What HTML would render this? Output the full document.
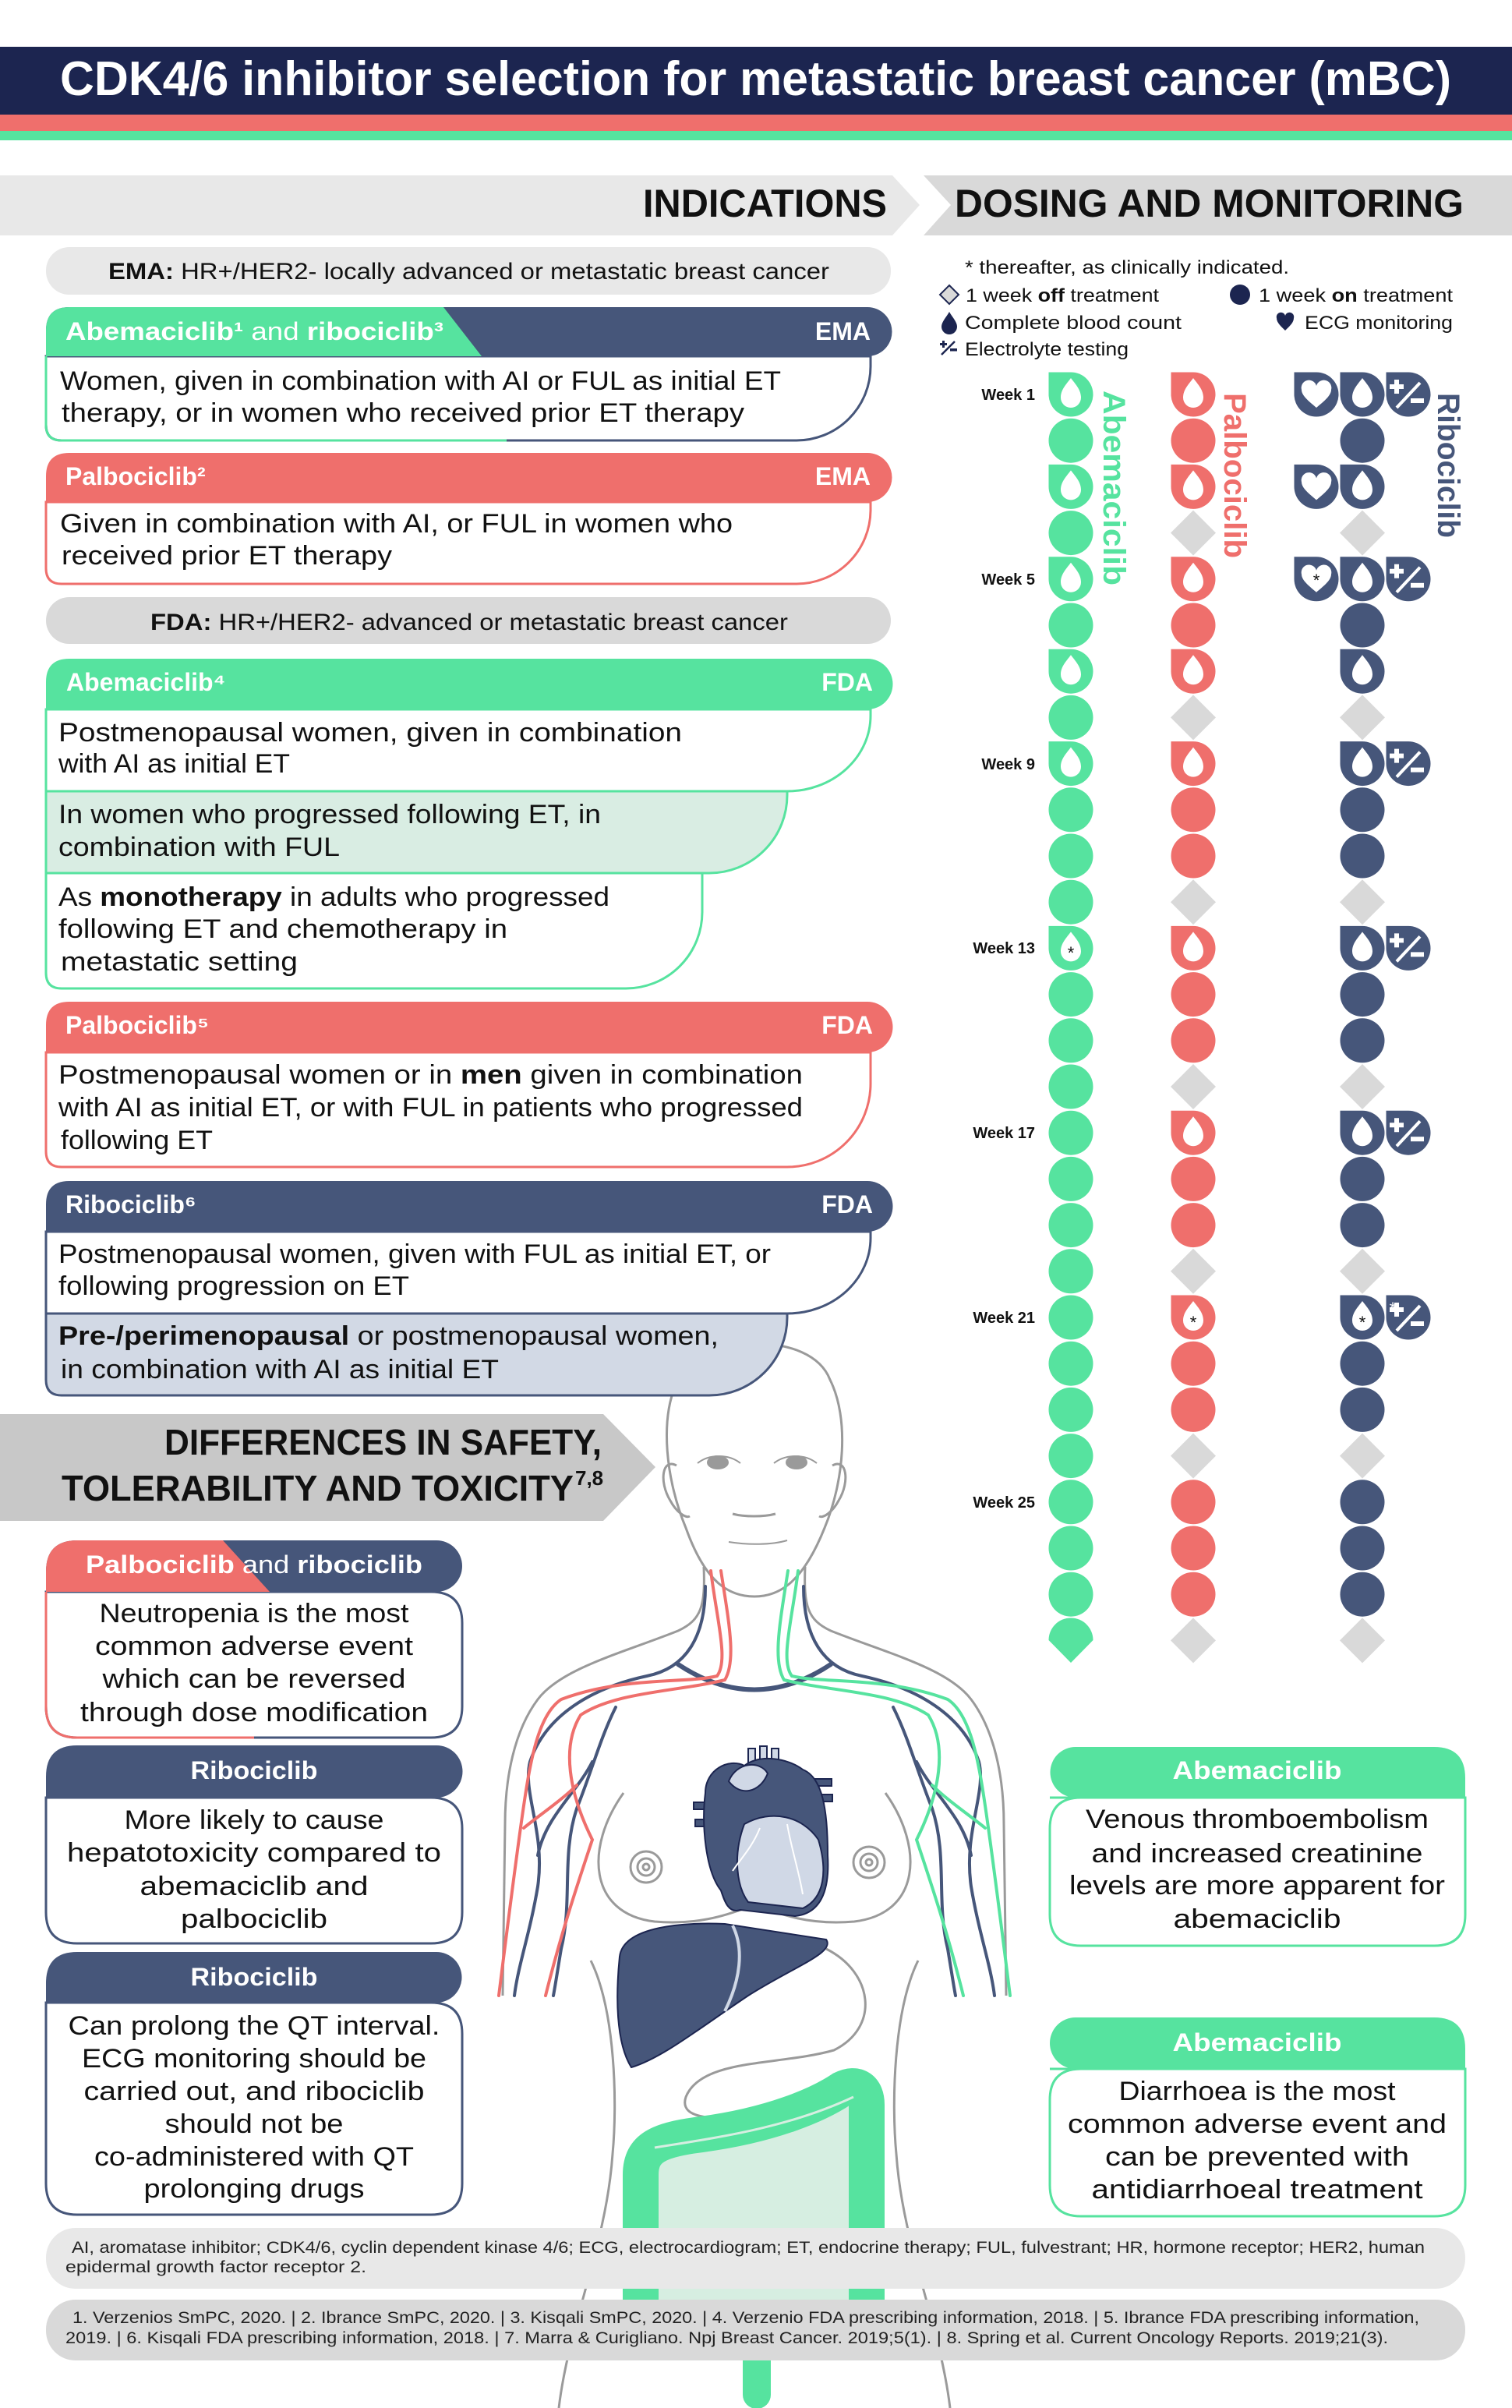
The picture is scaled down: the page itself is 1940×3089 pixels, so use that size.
<!DOCTYPE html>
<html><head><meta charset="utf-8"><style>
html,body{margin:0;padding:0;background:#fff}
svg{display:block}
text{font-family:"Liberation Sans","DejaVu Sans",sans-serif}
</style></head><body>
<svg width="1940" height="3089" viewBox="0 0 1940 3089" xmlns="http://www.w3.org/2000/svg">
<defs>
<circle id="c" r="28.5"/>
<path id="b" d="M-28.5,-28.5H0A28.5,28.5 0 0 1 28.5,0A28.5,28.5 0 0 1 0,28.5A28.5,28.5 0 0 1 -28.5,0Z"/>
<path id="w" d="M0,-21C6,-13 13,-6 13,4A13,13 0 0 1 -13,4C-13,-6 -6,-13 0,-21Z" fill="#fff"/>
<path id="h" d="M0,17C-8,10 -19,2 -19,-6A9.5,9.5 0 0 1 0,-11A9.5,9.5 0 0 1 19,-6C19,2 8,10 0,17Z" fill="#fff"/>
<g id="e"><path d="M-18,-19h6v6h6v6h-6v6h-6v-6h-6v-6h6z" fill="#fff"/><path d="M-15,17L15,-15" stroke="#fff" stroke-width="4"/><rect x="3" y="5" width="17" height="6" fill="#fff"/></g>
<polygon id="d" points="0,-29 29,0 0,29 -29,0" fill="#d9d9d9"/>
</defs>

<!-- title -->
<rect x="0" y="60" width="1940" height="87" fill="#1c2550"/>
<rect x="0" y="147" width="1940" height="21" fill="#ef6f6c"/>
<rect x="0" y="168" width="1940" height="12" fill="#56e39f"/>
<text x="77" y="122" font-size="62" font-weight="bold" fill="#fff" textLength="1785" lengthAdjust="spacingAndGlyphs">CDK4/6 inhibitor selection for metastatic breast cancer (mBC)</text>

<!-- section headers -->
<polygon points="0,225 1145,225 1180,263 1145,302 0,302" fill="#e8e8e8"/>
<polygon points="1185,225 1940,225 1940,302 1185,302 1220,263" fill="#d9d9d9"/>
<text x="825" y="278" font-size="50" font-weight="bold" fill="#111" textLength="313" lengthAdjust="spacingAndGlyphs">INDICATIONS</text>
<text x="1225" y="278" font-size="50" font-weight="bold" fill="#111" textLength="653" lengthAdjust="spacingAndGlyphs">DOSING AND MONITORING</text>

<!-- BODY FIGURE -->
<g fill="none" stroke="#9a9a9a" stroke-width="3">
<path d="M880,1960 C855,1900 845,1820 870,1770 C900,1712 1040,1705 1065,1770 C1090,1820 1083,1900 1058,1960 C1030,2030 1000,2048 968,2048 C935,2048 905,2030 880,1960 Z" fill="#fff"/>
<path d="M868,1880 C850,1870 845,1900 860,1925 C868,1940 880,1948 885,1945"/>
<path d="M1068,1880 C1086,1870 1091,1900 1076,1925 C1068,1940 1056,1948 1051,1945"/>
<path d="M903,2010 C905,2060 900,2078 870,2092 C800,2120 720,2140 690,2180 C660,2220 648,2280 648,2340 L645,2560"/>
<path d="M1033,2010 C1031,2060 1036,2078 1066,2092 C1136,2120 1216,2140 1246,2180 C1276,2220 1288,2280 1288,2340 L1291,2560"/>
<path d="M758,2515 C790,2580 792,2700 786,2763 C778,2880 730,2980 717,3089"/>
<path d="M1178,2515 C1146,2580 1144,2700 1150,2763 C1158,2880 1206,2980 1219,3089"/>
<path d="M800,2300 C750,2370 755,2455 840,2465 C900,2470 935,2455 965,2445"/>
<path d="M1136,2300 C1186,2370 1181,2455 1096,2465 C1036,2470 1000,2455 975,2445"/>
<circle cx="829" cy="2395" r="20"/><circle cx="829" cy="2395" r="11"/><circle cx="829" cy="2395" r="4"/>
<circle cx="1115" cy="2389" r="20"/><circle cx="1115" cy="2389" r="11"/><circle cx="1115" cy="2389" r="4"/>
<path d="M940,1942 C955,1946 980,1946 995,1942"/>
<path d="M935,1978 C960,1982 990,1982 1010,1976" stroke-width="2"/>
<path d="M1060,2500 C1120,2530 1130,2600 1070,2630 C1000,2650 900,2640 880,2690 C870,2720 920,2720 980,2715"/>
</g>
<ellipse cx="921" cy="1876" rx="14" ry="9" fill="#9a9a9a"/>
<ellipse cx="1022" cy="1876" rx="14" ry="9" fill="#9a9a9a"/>
<path d="M895,1877 C910,1865 935,1865 950,1877" fill="none" stroke="#9a9a9a" stroke-width="2"/>
<path d="M993,1877 C1008,1865 1033,1865 1048,1877" fill="none" stroke="#9a9a9a" stroke-width="2"/>
<!-- veins -->
<g fill="none" stroke-width="4" stroke-linecap="round">
<path d="M870,2135 Q968,2200 1066,2135" stroke="#46567a" stroke-width="6"/>
<g>
<path d="M905,2035 C905,2100 880,2140 830,2150 C760,2165 700,2200 680,2260 C670,2300 700,2350 690,2420 C680,2480 665,2520 660,2560" stroke="#46567a"/>
<path d="M790,2190 C770,2230 760,2270 740,2320 C720,2380 735,2440 720,2500 C715,2530 712,2550 710,2560" stroke="#46567a"/>
<path d="M760,2260 C740,2300 700,2330 690,2380" stroke="#46567a"/>
<path d="M912,2015 C920,2080 935,2130 920,2150 C880,2160 800,2150 720,2180 C690,2200 680,2260 670,2330 C660,2400 650,2480 640,2560" stroke="#ef6f6c"/>
<path d="M925,2015 C935,2080 945,2130 930,2155 C870,2170 790,2170 745,2200 C720,2240 730,2300 760,2360 C740,2420 720,2480 700,2560" stroke="#ef6f6c"/>
<path d="M740,2290 C720,2310 690,2330 672,2345" stroke="#ef6f6c"/>
</g>
<g transform="translate(1936,0) scale(-1,1)">
<path d="M905,2035 C905,2100 880,2140 830,2150 C760,2165 700,2200 680,2260 C670,2300 700,2350 690,2420 C680,2480 665,2520 660,2560" stroke="#46567a"/>
<path d="M790,2190 C770,2230 760,2270 740,2320 C720,2380 735,2440 720,2500 C715,2530 712,2550 710,2560" stroke="#46567a"/>
<path d="M760,2260 C740,2300 700,2330 690,2380" stroke="#46567a"/>
<path d="M912,2015 C920,2080 935,2130 920,2150 C880,2160 800,2150 720,2180 C690,2200 680,2260 670,2330 C660,2400 650,2480 640,2560" stroke="#56e39f"/>
<path d="M925,2015 C935,2080 945,2130 930,2155 C870,2170 790,2170 745,2200 C720,2240 730,2300 760,2360 C740,2420 720,2480 700,2560" stroke="#56e39f"/>
<path d="M740,2290 C720,2310 690,2330 672,2345" stroke="#56e39f"/>
</g>
</g>
<!-- heart -->
<g stroke="#1c2550" stroke-width="2">
<rect x="890" y="2312" width="20" height="9" fill="#46567a"/>
<rect x="892" y="2334" width="18" height="9" fill="#46567a"/>
<rect x="1045" y="2282" width="22" height="9" fill="#46567a"/>
<rect x="1048" y="2302" width="20" height="9" fill="#46567a"/>
<rect x="960" y="2243" width="9" height="22" fill="#d0d8e6"/>
<rect x="975" y="2240" width="9" height="25" fill="#d0d8e6"/>
<rect x="990" y="2243" width="9" height="22" fill="#d0d8e6"/>
<path d="M905,2300 C905,2270 935,2255 955,2265 C975,2250 1010,2255 1030,2270 C1055,2280 1062,2320 1062,2380 C1065,2430 1050,2455 1020,2458 L950,2450 C935,2455 930,2440 925,2425 C905,2400 900,2340 905,2300 Z" fill="#46567a"/>
<path d="M955,2340 C990,2320 1030,2330 1050,2360 C1062,2400 1058,2435 1030,2448 L960,2440 C945,2420 940,2380 955,2340 Z" fill="#d0d8e6"/>
<path d="M935,2285 C945,2260 975,2258 985,2275 C975,2300 950,2305 935,2285 Z" fill="#d0d8e6"/>
</g>
<path d="M975,2345 C965,2370 950,2385 940,2400 M1010,2340 C1015,2370 1025,2400 1030,2430" fill="none" stroke="#fff" stroke-width="2"/>
<!-- liver -->
<path d="M795,2510 C800,2470 880,2466 930,2468 L1060,2488 C1072,2505 1020,2522 960,2560 C900,2600 850,2640 810,2652 C790,2620 790,2560 795,2510 Z" fill="#46567a" stroke="#1c2550" stroke-width="2"/>
<path d="M940,2470 C955,2500 950,2540 930,2580" fill="none" stroke="#d0d8e6" stroke-width="4"/>
<!-- intestines -->
<path d="M830,2760 C900,2740 1000,2730 1095,2700 L1095,3000 L830,3000 Z" fill="#d6eee1"/>
<path d="M822,2990 L822,2790 C822,2755 845,2745 900,2738 C990,2726 1050,2700 1080,2680 C1100,2670 1112,2680 1112,2700 L1112,2990" fill="none" stroke="#56e39f" stroke-width="46" stroke-linejoin="round"/>
<path d="M840,2755 C920,2742 1010,2730 1095,2690" fill="none" stroke="#d6eee1" stroke-width="3"/>
<path d="M971,3000 V3072" stroke="#56e39f" stroke-width="36" stroke-linecap="round"/>

<!-- EMA bar -->
<rect x="59" y="317" width="1084" height="61" rx="30" fill="#e8e8e8"/>
<text x="139" y="358" font-size="30" fill="#111" textLength="925" lengthAdjust="spacingAndGlyphs"><tspan font-weight="bold">EMA:</tspan> HR+/HER2- locally advanced or metastatic breast cancer</text>

<!-- Abema & ribo EMA -->
<path d="M59,457 H1117 V470 A95,95 0 0 1 1022,565 H79 Q59,565 59,545 Z" fill="#fff" stroke="#46567a" stroke-width="3"/>
<path d="M59,457 V545 Q59,565 79,565 H650" fill="none" stroke="#56e39f" stroke-width="3"/>
<path d="M59,457 V424 Q59,394 89,394 H1113 A31.5,31.5 0 0 1 1113,457 Z" fill="#46567a"/>
<path d="M59,457 V424 Q59,394 89,394 H569 L618,457 Z" fill="#56e39f"/>
<text x="84" y="436" font-size="32" fill="#fff" textLength="485" lengthAdjust="spacingAndGlyphs"><tspan font-weight="bold">Abemaciclib¹</tspan> and <tspan font-weight="bold">ribociclib³</tspan></text>
<text x="1117" y="436" font-size="32" font-weight="bold" fill="#fff" text-anchor="end">EMA</text>
<text x="77" y="500" font-size="34" fill="#111" textLength="925" lengthAdjust="spacingAndGlyphs">Women, given in combination with AI or FUL as initial ET</text>
<text x="79" y="541" font-size="34" fill="#111" textLength="876" lengthAdjust="spacingAndGlyphs">therapy, or in women who received prior ET therapy</text>

<!-- Palbo EMA -->
<path d="M59,644 H1117 V655 A95,95 0 0 1 1022,749 H79 Q59,749 59,729 Z" fill="#fff" stroke="#ef6f6c" stroke-width="3"/>
<path d="M59,644 V611 Q59,581 89,581 H1113 A31.5,31.5 0 0 1 1113,644 Z" fill="#ef6f6c"/>
<text x="84" y="622" font-size="32" font-weight="bold" fill="#fff">Palbociclib²</text>
<text x="1117" y="622" font-size="32" font-weight="bold" fill="#fff" text-anchor="end">EMA</text>
<text x="77" y="683" font-size="34" fill="#111" textLength="863" lengthAdjust="spacingAndGlyphs">Given in combination with AI, or FUL in women who</text>
<text x="79" y="724" font-size="34" fill="#111" textLength="424" lengthAdjust="spacingAndGlyphs">received prior ET therapy</text>

<!-- FDA bar -->
<rect x="59" y="766" width="1084" height="60" rx="30" fill="#d9d9d9"/>
<text x="193" y="808" font-size="30" fill="#111" textLength="818" lengthAdjust="spacingAndGlyphs"><tspan font-weight="bold">FDA:</tspan> HR+/HER2- advanced or metastatic breast cancer</text>

<!-- Abema FDA -->
<path d="M59,1120 H901 V1170 A98,98 0 0 1 803,1268 H79 Q59,1268 59,1248 Z" fill="#fff" stroke="#56e39f" stroke-width="3"/>
<path d="M59,1015 H1010 V1020 A100,100 0 0 1 910,1120 H59 Z" fill="#d9ede3" stroke="#56e39f" stroke-width="3"/>
<path d="M59,910 H1117 V918 A107,97 0 0 1 1010,1015 H59 Z" fill="#fff" stroke="#56e39f" stroke-width="3"/>
<path d="M59,910 V875 Q59,845 89,845 H1113 A32.5,32.5 0 0 1 1113,910 Z" fill="#56e39f"/>
<text x="85" y="886" font-size="32" font-weight="bold" fill="#fff">Abemaciclib⁴</text>
<text x="1120" y="886" font-size="32" font-weight="bold" fill="#fff" text-anchor="end">FDA</text>
<text x="75" y="951" font-size="34" fill="#111" textLength="800" lengthAdjust="spacingAndGlyphs">Postmenopausal women, given in combination</text>
<text x="75" y="991" font-size="34" fill="#111" textLength="297" lengthAdjust="spacingAndGlyphs">with AI as initial ET</text>
<text x="75" y="1056" font-size="34" fill="#111" textLength="696" lengthAdjust="spacingAndGlyphs">In women who progressed following ET, in</text>
<text x="75" y="1098" font-size="34" fill="#111" textLength="361" lengthAdjust="spacingAndGlyphs">combination with FUL</text>
<text x="75" y="1162" font-size="34" fill="#111" textLength="707" lengthAdjust="spacingAndGlyphs">As <tspan font-weight="bold">monotherapy</tspan> in adults who progressed</text>
<text x="75" y="1203" font-size="34" fill="#111" textLength="576" lengthAdjust="spacingAndGlyphs">following ET and chemotherapy in</text>
<text x="78" y="1245" font-size="34" fill="#111" textLength="304" lengthAdjust="spacingAndGlyphs">metastatic setting</text>

<!-- Palbo FDA -->
<path d="M59,1350 H1117 V1390 A107,107 0 0 1 1010,1497 H79 Q59,1497 59,1477 Z" fill="#fff" stroke="#ef6f6c" stroke-width="3"/>
<path d="M59,1350 V1315 Q59,1285 89,1285 H1113 A32.5,32.5 0 0 1 1113,1350 Z" fill="#ef6f6c"/>
<text x="84" y="1326" font-size="32" font-weight="bold" fill="#fff">Palbociclib⁵</text>
<text x="1120" y="1326" font-size="32" font-weight="bold" fill="#fff" text-anchor="end">FDA</text>
<text x="75" y="1390" font-size="34" fill="#111" textLength="955" lengthAdjust="spacingAndGlyphs">Postmenopausal women or in <tspan font-weight="bold">men</tspan> given in combination</text>
<text x="75" y="1432" font-size="34" fill="#111" textLength="955" lengthAdjust="spacingAndGlyphs">with AI as initial ET, or with FUL in patients who progressed</text>
<text x="78" y="1474" font-size="34" fill="#111" textLength="195" lengthAdjust="spacingAndGlyphs">following ET</text>

<!-- Ribo FDA -->
<path d="M59,1685 H1010 V1690 A100,100 0 0 1 910,1790 H79 Q59,1790 59,1770 Z" fill="#d2d9e5" stroke="#46567a" stroke-width="3"/>
<path d="M59,1580 H1117 V1588 A107,97 0 0 1 1010,1685 H59 Z" fill="#fff" stroke="#46567a" stroke-width="3"/>
<path d="M59,1580 V1545 Q59,1515 89,1515 H1113 A32.5,32.5 0 0 1 1113,1580 Z" fill="#46567a"/>
<text x="84" y="1556" font-size="32" font-weight="bold" fill="#fff">Ribociclib⁶</text>
<text x="1120" y="1556" font-size="32" font-weight="bold" fill="#fff" text-anchor="end">FDA</text>
<text x="75" y="1620" font-size="34" fill="#111" textLength="914" lengthAdjust="spacingAndGlyphs">Postmenopausal women, given with FUL as initial ET, or</text>
<text x="75" y="1661" font-size="34" fill="#111" textLength="450" lengthAdjust="spacingAndGlyphs">following progression on ET</text>
<text x="75" y="1725" font-size="34" fill="#111" textLength="847" lengthAdjust="spacingAndGlyphs"><tspan font-weight="bold">Pre-/perimenopausal</tspan> or postmenopausal women,</text>
<text x="78" y="1768" font-size="34" fill="#111" textLength="562" lengthAdjust="spacingAndGlyphs">in combination with AI as initial ET</text>

<!-- Differences header -->
<polygon points="0,1814 774,1814 841,1882 774,1951 0,1951" fill="#c8c8c8"/>
<text x="211" y="1866" font-size="46" font-weight="bold" fill="#111" textLength="561" lengthAdjust="spacingAndGlyphs">DIFFERENCES IN SAFETY,</text>
<text x="79" y="1925" font-size="46" font-weight="bold" fill="#111" textLength="657" lengthAdjust="spacingAndGlyphs">TOLERABILITY AND TOXICITY</text>
<text x="738" y="1905" font-size="26" font-weight="bold" fill="#111">7,8</text>

<!-- Diff box 1 -->
<path d="M59,2042 H553 Q593,2042 593,2082 V2189 Q593,2229 553,2229 H99 Q59,2229 59,2189 Z" fill="#fff" stroke="#46567a" stroke-width="3"/>
<path d="M59,2042 V2189 Q59,2229 99,2229 H326" fill="none" stroke="#ef6f6c" stroke-width="3"/>
<path d="M59,2042 V2016 Q59,1976 99,1976 H560 A33,33 0 0 1 560,2042 Z" fill="#46567a"/>
<path d="M59,2042 V2016 Q59,1976 99,1976 H286 L346,2042 Z" fill="#ef6f6c"/>
<text x="110" y="2018" font-size="32" fill="#fff" textLength="432" lengthAdjust="spacingAndGlyphs"><tspan font-weight="bold">Palbociclib</tspan> and <tspan font-weight="bold">ribociclib</tspan></text>
<g font-size="34" fill="#111" text-anchor="middle">
<text x="326" y="2081" textLength="397" lengthAdjust="spacingAndGlyphs">Neutropenia is the most</text>
<text x="326" y="2123" textLength="408" lengthAdjust="spacingAndGlyphs">common adverse event</text>
<text x="326" y="2165" textLength="389" lengthAdjust="spacingAndGlyphs">which can be reversed</text>
<text x="326" y="2208" textLength="446" lengthAdjust="spacingAndGlyphs">through dose modification</text>
</g>

<!-- Diff box 2 -->
<path d="M59,2306 H553 Q593,2306 593,2346 V2453 Q593,2493 553,2493 H99 Q59,2493 59,2453 Z" fill="#fff" stroke="#46567a" stroke-width="3"/>
<path d="M59,2306 V2279 Q59,2239 99,2239 H560 A33.5,33.5 0 0 1 560,2306 Z" fill="#46567a"/>
<text x="326" y="2282" font-size="32" font-weight="bold" fill="#fff" text-anchor="middle" textLength="163" lengthAdjust="spacingAndGlyphs">Ribociclib</text>
<g font-size="34" fill="#111" text-anchor="middle">
<text x="326" y="2346" textLength="333" lengthAdjust="spacingAndGlyphs">More likely to cause</text>
<text x="326" y="2388" textLength="480" lengthAdjust="spacingAndGlyphs">hepatotoxicity compared to</text>
<text x="326" y="2431" textLength="293" lengthAdjust="spacingAndGlyphs">abemaciclib and</text>
<text x="326" y="2473" textLength="188" lengthAdjust="spacingAndGlyphs">palbociclib</text>
</g>

<!-- Diff box 3 -->
<path d="M59,2569 H553 Q593,2569 593,2609 V2801 Q593,2841 553,2841 H99 Q59,2841 59,2801 Z" fill="#fff" stroke="#46567a" stroke-width="3"/>
<path d="M59,2569 V2544 Q59,2504 99,2504 H560 A32.5,32.5 0 0 1 560,2569 Z" fill="#46567a"/>
<text x="326" y="2547" font-size="32" font-weight="bold" fill="#fff" text-anchor="middle" textLength="163" lengthAdjust="spacingAndGlyphs">Ribociclib</text>
<g font-size="34" fill="#111" text-anchor="middle">
<text x="326" y="2610" textLength="477" lengthAdjust="spacingAndGlyphs">Can prolong the QT interval.</text>
<text x="326" y="2652" textLength="442" lengthAdjust="spacingAndGlyphs">ECG monitoring should be</text>
<text x="326" y="2694" textLength="437" lengthAdjust="spacingAndGlyphs">carried out, and ribociclib</text>
<text x="326" y="2736" textLength="229" lengthAdjust="spacingAndGlyphs">should not be</text>
<text x="326" y="2778" textLength="410" lengthAdjust="spacingAndGlyphs">co-administered with QT</text>
<text x="326" y="2819" textLength="283" lengthAdjust="spacingAndGlyphs">prolonging drugs</text>
</g>

<!-- Right box A -->
<path d="M1347,2306 H1880 V2456 Q1880,2496 1840,2496 H1387 Q1347,2496 1347,2456 V2346 Q1347,2306 1387,2306 Z" fill="#fff" stroke="#56e39f" stroke-width="3"/>
<path d="M1880,2306 V2281 Q1880,2241 1840,2241 H1380 A32.5,32.5 0 0 0 1380,2306 Z" fill="#56e39f"/>
<text x="1613" y="2282" font-size="32" font-weight="bold" fill="#fff" text-anchor="middle" textLength="217" lengthAdjust="spacingAndGlyphs">Abemaciclib</text>
<g font-size="34" fill="#111" text-anchor="middle">
<text x="1613" y="2345" textLength="440" lengthAdjust="spacingAndGlyphs">Venous thromboembolism</text>
<text x="1613" y="2389" textLength="425" lengthAdjust="spacingAndGlyphs">and increased creatinine</text>
<text x="1613" y="2430" textLength="482" lengthAdjust="spacingAndGlyphs">levels are more apparent for</text>
<text x="1613" y="2473" textLength="215" lengthAdjust="spacingAndGlyphs">abemaciclib</text>
</g>

<!-- Right box B -->
<path d="M1347,2654 H1880 V2803 Q1880,2843 1840,2843 H1387 Q1347,2843 1347,2803 V2694 Q1347,2654 1387,2654 Z" fill="#fff" stroke="#56e39f" stroke-width="3"/>
<path d="M1880,2654 V2628 Q1880,2588 1840,2588 H1380 A33,33 0 0 0 1380,2654 Z" fill="#56e39f"/>
<text x="1613" y="2631" font-size="32" font-weight="bold" fill="#fff" text-anchor="middle" textLength="217" lengthAdjust="spacingAndGlyphs">Abemaciclib</text>
<g font-size="34" fill="#111" text-anchor="middle">
<text x="1613" y="2694" textLength="355" lengthAdjust="spacingAndGlyphs">Diarrhoea is the most</text>
<text x="1613" y="2736" textLength="486" lengthAdjust="spacingAndGlyphs">common adverse event and</text>
<text x="1613" y="2778" textLength="390" lengthAdjust="spacingAndGlyphs">can be prevented with</text>
<text x="1613" y="2820" textLength="425" lengthAdjust="spacingAndGlyphs">antidiarrhoeal  treatment</text>
</g>

<!-- footnotes -->
<rect x="59" y="2858" width="1821" height="78" rx="38" fill="#e8e8e8"/>
<text x="92" y="2890" font-size="21" fill="#222" textLength="1736" lengthAdjust="spacingAndGlyphs">AI, aromatase inhibitor; CDK4/6, cyclin dependent kinase 4/6; ECG, electrocardiogram; ET, endocrine therapy; FUL, fulvestrant; HR, hormone receptor; HER2, human</text>
<text x="84" y="2915" font-size="21" fill="#222" textLength="386" lengthAdjust="spacingAndGlyphs">epidermal growth factor receptor 2.</text>
<rect x="59" y="2950" width="1821" height="78" rx="38" fill="#d9d9d9"/>
<text x="93" y="2980" font-size="21" fill="#222" textLength="1728" lengthAdjust="spacingAndGlyphs">1. Verzenios SmPC, 2020.  |  2. Ibrance SmPC, 2020.  |  3. Kisqali SmPC, 2020.  |  4. Verzenio FDA prescribing information, 2018.  |  5. Ibrance FDA prescribing information,</text>
<text x="84" y="3006" font-size="21" fill="#222" textLength="1697" lengthAdjust="spacingAndGlyphs">2019.  |  6. Kisqali FDA prescribing information, 2018.  |  7. Marra &amp; Curigliano. Npj Breast Cancer. 2019;5(1).  |  8. Spring et al. Current Oncology Reports. 2019;21(3).</text>

<!-- legend -->
<text x="1238" y="351" font-size="24" fill="#111" textLength="416" lengthAdjust="spacingAndGlyphs">* thereafter, as clinically indicated.</text>
<polygon points="1218,366 1230,378 1218,390 1206,378" fill="#d9d9d9" stroke="#1c2550" stroke-width="2"/>
<text x="1239" y="387" font-size="24" fill="#111" textLength="248" lengthAdjust="spacingAndGlyphs">1 week <tspan font-weight="bold">off</tspan> treatment</text>
<circle cx="1591" cy="378" r="13" fill="#1c2550"/>
<text x="1615" y="387" font-size="24" fill="#111" textLength="249" lengthAdjust="spacingAndGlyphs">1 week <tspan font-weight="bold">on</tspan> treatment</text>
<path d="M1218,400 C1222,407 1228,413 1228,419 A10,10 0 0 1 1208,419 C1208,413 1214,407 1218,400 Z" fill="#1c2550"/>
<text x="1238" y="422" font-size="24" fill="#111" textLength="278" lengthAdjust="spacingAndGlyphs">Complete blood count</text>
<path d="M1649,424 C1644,419 1638,414 1638,408 A5.5,5.5 0 0 1 1649,405 A5.5,5.5 0 0 1 1660,408 C1660,414 1654,419 1649,424 Z" fill="#1c2550"/>
<text x="1674" y="422" font-size="24" fill="#111" textLength="190" lengthAdjust="spacingAndGlyphs">ECG monitoring</text>
<path d="M1209,437h3v3h3v3h-3v3h-3v-3h-3v-3h3z" fill="#1c2550"/>
<path d="M1208,455L1225,438" stroke="#1c2550" stroke-width="2.5"/>
<rect x="1219" y="447" width="9" height="3.5" fill="#1c2550"/>
<text x="1238" y="456" font-size="24" fill="#111" textLength="210" lengthAdjust="spacingAndGlyphs">Electrolyte testing</text>

<!-- week labels -->
<g font-size="20" font-weight="bold" fill="#111" text-anchor="end">
<text x="1328" y="513">Week 1</text>
<text x="1328" y="750">Week 5</text>
<text x="1328" y="987">Week 9</text>
<text x="1328" y="1223">Week 13</text>
<text x="1328" y="1460">Week 17</text>
<text x="1328" y="1697">Week 21</text>
<text x="1328" y="1934">Week 25</text>
</g>

<!-- vertical labels -->
<text transform="translate(1416,501) rotate(90)" font-size="40" font-weight="bold" fill="#56e39f" textLength="250" lengthAdjust="spacingAndGlyphs">Abemaciclib</text>
<text transform="translate(1571,504) rotate(90)" font-size="40" font-weight="bold" fill="#ef6f6c" textLength="212" lengthAdjust="spacingAndGlyphs">Palbociclib</text>
<text transform="translate(1845,504) rotate(90)" font-size="40" font-weight="bold" fill="#46567a" textLength="186" lengthAdjust="spacingAndGlyphs">Ribociclib</text>

<!-- Abemaciclib column -->
<g fill="#56e39f">
<use href="#b" x="1374" y="506"/><use href="#w" x="1374" y="506"/>
<use href="#c" x="1374" y="565.2"/>
<use href="#b" x="1374" y="624.4"/><use href="#w" x="1374" y="624.4"/>
<use href="#c" x="1374" y="683.6"/>
<use href="#b" x="1374" y="742.8"/><use href="#w" x="1374" y="742.8"/>
<use href="#c" x="1374" y="802"/>
<use href="#b" x="1374" y="861.2"/><use href="#w" x="1374" y="861.2"/>
<use href="#c" x="1374" y="920.4"/>
<use href="#b" x="1374" y="979.6"/><use href="#w" x="1374" y="979.6"/>
<use href="#c" x="1374" y="1038.8"/>
<use href="#c" x="1374" y="1098"/>
<use href="#c" x="1374" y="1157.2"/>
<use href="#b" x="1374" y="1216.4"/><use href="#w" x="1374" y="1216.4"/>
<use href="#c" x="1374" y="1275.6"/>
<use href="#c" x="1374" y="1334.8"/>
<use href="#c" x="1374" y="1394"/>
<use href="#c" x="1374" y="1453.2"/>
<use href="#c" x="1374" y="1512.4"/>
<use href="#c" x="1374" y="1571.6"/>
<use href="#c" x="1374" y="1630.8"/>
<use href="#c" x="1374" y="1690"/>
<use href="#c" x="1374" y="1749.2"/>
<use href="#c" x="1374" y="1808.4"/>
<use href="#c" x="1374" y="1867.6"/>
<use href="#c" x="1374" y="1926.8"/>
<use href="#c" x="1374" y="1986"/>
<use href="#c" x="1374" y="2045.2"/>
<path d="M1345.5,2104 A28.5,28.5 0 0 1 1402.5,2104 L1374,2133 Z"/>
</g>
<text x="1374" y="1230" font-size="22" fill="#111" text-anchor="middle">*</text>

<!-- Palbociclib column -->
<g fill="#ef6f6c">
<use href="#b" x="1531" y="506"/><use href="#w" x="1531" y="506"/>
<use href="#c" x="1531" y="565.2"/>
<use href="#b" x="1531" y="624.4"/><use href="#w" x="1531" y="624.4"/>
<use href="#d" x="1531" y="683.6"/>
<use href="#b" x="1531" y="742.8"/><use href="#w" x="1531" y="742.8"/>
<use href="#c" x="1531" y="802"/>
<use href="#b" x="1531" y="861.2"/><use href="#w" x="1531" y="861.2"/>
<use href="#d" x="1531" y="920.4"/>
<use href="#b" x="1531" y="979.6"/><use href="#w" x="1531" y="979.6"/>
<use href="#c" x="1531" y="1038.8"/>
<use href="#c" x="1531" y="1098"/>
<use href="#d" x="1531" y="1157.2"/>
<use href="#b" x="1531" y="1216.4"/><use href="#w" x="1531" y="1216.4"/>
<use href="#c" x="1531" y="1275.6"/>
<use href="#c" x="1531" y="1334.8"/>
<use href="#d" x="1531" y="1394"/>
<use href="#b" x="1531" y="1453.2"/><use href="#w" x="1531" y="1453.2"/>
<use href="#c" x="1531" y="1512.4"/>
<use href="#c" x="1531" y="1571.6"/>
<use href="#d" x="1531" y="1630.8"/>
<use href="#b" x="1531" y="1690"/><use href="#w" x="1531" y="1690"/>
<use href="#c" x="1531" y="1749.2"/>
<use href="#c" x="1531" y="1808.4"/>
<use href="#d" x="1531" y="1867.6"/>
<use href="#c" x="1531" y="1926.8"/>
<use href="#c" x="1531" y="1986"/>
<use href="#c" x="1531" y="2045.2"/>
<use href="#d" x="1531" y="2104.4"/>
</g>
<text x="1531" y="1704" font-size="22" fill="#111" text-anchor="middle">*</text>

<!-- Ribociclib column -->
<g fill="#46567a">
<use href="#b" x="1689" y="506"/><use href="#h" x="1689" y="506"/>
<use href="#b" x="1807" y="506"/><use href="#e" x="1807" y="506"/>
<use href="#b" x="1748" y="506"/><use href="#w" x="1748" y="506"/>
<use href="#c" x="1748" y="565.2"/>
<use href="#b" x="1689" y="624.4"/><use href="#h" x="1689" y="624.4"/>
<use href="#b" x="1748" y="624.4"/><use href="#w" x="1748" y="624.4"/>
<use href="#d" x="1748" y="683.6"/>
<use href="#b" x="1689" y="742.8"/><use href="#h" x="1689" y="742.8"/>
<use href="#b" x="1807" y="742.8"/><use href="#e" x="1807" y="742.8"/>
<use href="#b" x="1748" y="742.8"/><use href="#w" x="1748" y="742.8"/>
<use href="#c" x="1748" y="802"/>
<use href="#b" x="1748" y="861.2"/><use href="#w" x="1748" y="861.2"/>
<use href="#d" x="1748" y="920.4"/>
<use href="#b" x="1807" y="979.6"/><use href="#e" x="1807" y="979.6"/>
<use href="#b" x="1748" y="979.6"/><use href="#w" x="1748" y="979.6"/>
<use href="#c" x="1748" y="1038.8"/>
<use href="#c" x="1748" y="1098"/>
<use href="#d" x="1748" y="1157.2"/>
<use href="#b" x="1807" y="1216.4"/><use href="#e" x="1807" y="1216.4"/>
<use href="#b" x="1748" y="1216.4"/><use href="#w" x="1748" y="1216.4"/>
<use href="#c" x="1748" y="1275.6"/>
<use href="#c" x="1748" y="1334.8"/>
<use href="#d" x="1748" y="1394"/>
<use href="#b" x="1807" y="1453.2"/><use href="#e" x="1807" y="1453.2"/>
<use href="#b" x="1748" y="1453.2"/><use href="#w" x="1748" y="1453.2"/>
<use href="#c" x="1748" y="1512.4"/>
<use href="#c" x="1748" y="1571.6"/>
<use href="#d" x="1748" y="1630.8"/>
<use href="#b" x="1807" y="1690"/><use href="#e" x="1807" y="1690"/>
<use href="#b" x="1748" y="1690"/><use href="#w" x="1748" y="1690"/>
<use href="#c" x="1748" y="1749.2"/>
<use href="#c" x="1748" y="1808.4"/>
<use href="#d" x="1748" y="1867.6"/>
<use href="#c" x="1748" y="1926.8"/>
<use href="#c" x="1748" y="1986"/>
<use href="#c" x="1748" y="2045.2"/>
<use href="#d" x="1748" y="2104.4"/>
</g>
<g font-size="22" fill="#111" text-anchor="middle">
<text x="1689" y="752">*</text>
<text x="1748" y="1704">*</text>
</g>
<text x="1787" y="1686" font-size="22" fill="#fff" text-anchor="middle">*</text>
</svg>
</body></html>
